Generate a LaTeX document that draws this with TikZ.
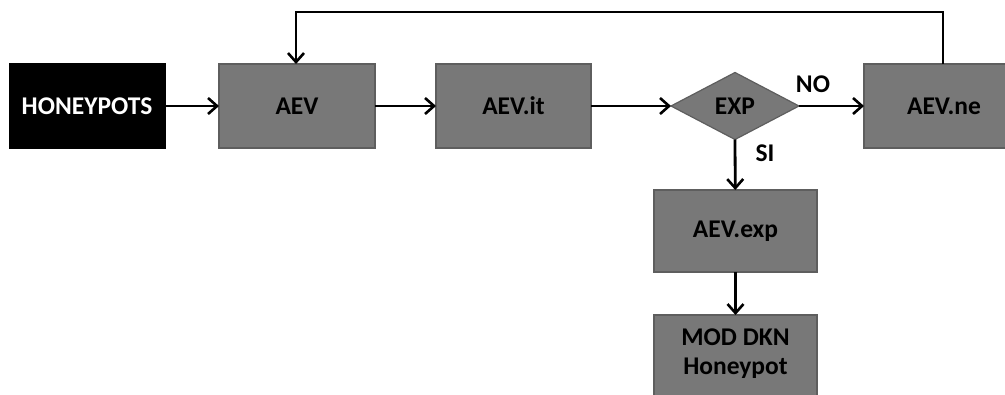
\documentclass[tikz,border=0pt]{standalone}
\usepackage{fontspec}
\setmainfont{Carlito}
\usetikzlibrary{arrows.meta,shapes.geometric}
\definecolor{boxgray}{HTML}{787878}
\definecolor{boxline}{HTML}{5E5E5E}
\begin{document}
\begin{tikzpicture}[x=1pt,y=-1pt,
  lbl/.style={font=\fontsize{25.5}{29}\selectfont\bfseries},
  graybox/.style={draw=boxline,line width=1.8pt,fill=boxgray,lbl,text=black,align=center},
  blackbox/.style={draw=black,fill=black,lbl,text=white},
  conn/.style={line width=2.8pt,-{Straight Barb[length=9pt,width=16pt,line width=2.6pt]}},
  every node/.style={inner sep=0pt,outer sep=0pt}]
\useasboundingbox (0,0) rectangle (1005,394);
\clip (0,0) rectangle (1005,394);
\node[blackbox,minimum width=156pt,minimum height=85pt] (hp) at (87,106) {HONEYPOTS};
\node[graybox,minimum width=156pt,minimum height=84pt] (aev) at (297,106) {AEV};
\node[graybox,minimum width=155pt,minimum height=84pt] (aevit) at (513.5,106) {AEV.it};
\node[diamond,draw=boxline,line width=1.2pt,fill=boxgray,lbl,minimum width=128pt,minimum height=67pt,aspect=1.9] (exp) at (735,106) {EXP};
\node[graybox,minimum width=160pt,minimum height=84pt] (aevne) at (944,106) {AEV.ne};
\node[graybox,minimum width=163pt,minimum height=82pt] (aevexp) at (735.5,231) {AEV.exp};
\node[graybox,minimum width=163pt,minimum height=100pt,anchor=north] (mod) at (735.5,315) {};
\node[lbl,align=center,anchor=north] (modt) at (735.5,329) {MOD DKN\\Honeypot};
\coordinate (fb1) at (943,12);
\coordinate (fb2) at (296,12);
\node[lbl] (no) at (813,84) {NO};
\node[lbl] (si) at (765,153) {SI};
\draw[conn] (hp) -- (aev);
\draw[conn] (aev) -- (aevit);
\draw[conn] (aevit) -- (exp.west);
\draw[conn] (exp.east) -- (aevne);
\draw[conn] (exp.south) -- (aevexp);
\draw[conn] (aevexp) -- (mod);
\draw[conn] (aevne.north -| fb1) -- (fb1) -- (fb2) -- (aev.north -| fb2);
\end{tikzpicture}
\end{document}
